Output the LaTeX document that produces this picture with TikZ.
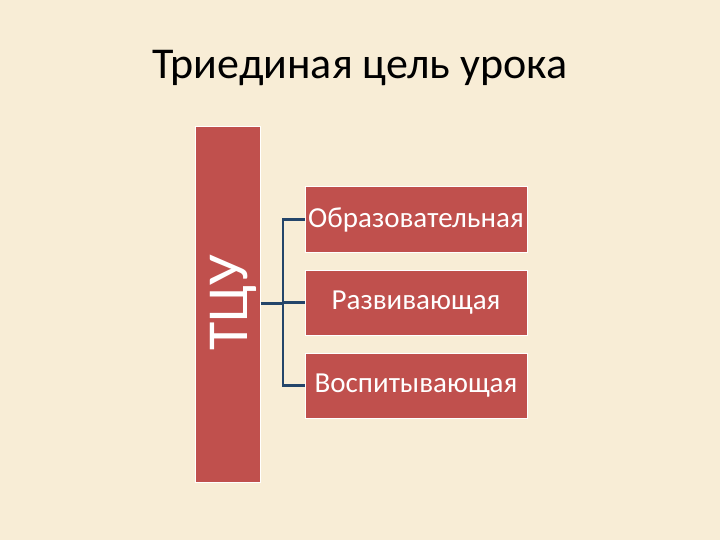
\documentclass[tikz,border=0pt]{standalone}
\usepackage{fontspec}
\setmainfont{Carlito}
\usepackage{tikz}
\usetikzlibrary{positioning,calc}
\definecolor{slidecream}{HTML}{F8EDD6}
\definecolor{accentred}{HTML}{C0504D}
\definecolor{linkblue}{HTML}{24456A}
\tikzstyle{goalbar} = [
  rectangle, fill=accentred, draw=white, line width=1pt,
  minimum width=65pt, minimum height=355pt, inner sep=0pt
]
\tikzstyle{goalbox} = [
  rectangle, fill=accentred, draw=white, line width=1pt,
  minimum width=222pt, minimum height=65pt, inner sep=0pt,
  text=white, font=\fontsize{29}{34}\selectfont
]
\tikzstyle{linkstyle} = [draw=linkblue, line width=2.2pt]

\begin{document}
\begin{tikzpicture}[x=1pt, y=-1pt]

% --- Background ---
\fill[slidecream] (0,0) rectangle (720,540);
\useasboundingbox (0,0) rectangle (720,540);

% --- Title ---
\node[font=\fontsize{44}{50}\selectfont] (title) at (360,68) {Триединая цель урока};

% --- Bar and goals ---
\node[goalbar] (bar) at (227.5,304.5) {};
\node[rotate=90, text=white, font=\fontsize{58}{62}\selectfont] (barlabel) at (233,303) {ТЦУ};
\node[goalbox] (edu) at (416,219.5) {Образовательная};
\node[goalbox, below=17pt of edu] (dev) {Развивающая};
\node[goalbox, below=17pt of dev] (upb) {Воспитывающая};

% --- Connectors ---
\coordinate (fork) at (283,303.5);
\draw[linkstyle] (bar.east |- fork) -- (fork);
\foreach \g in {edu,dev,upb}
  \draw[linkstyle] (fork) |- (\g.west);

\end{tikzpicture}
\end{document}
